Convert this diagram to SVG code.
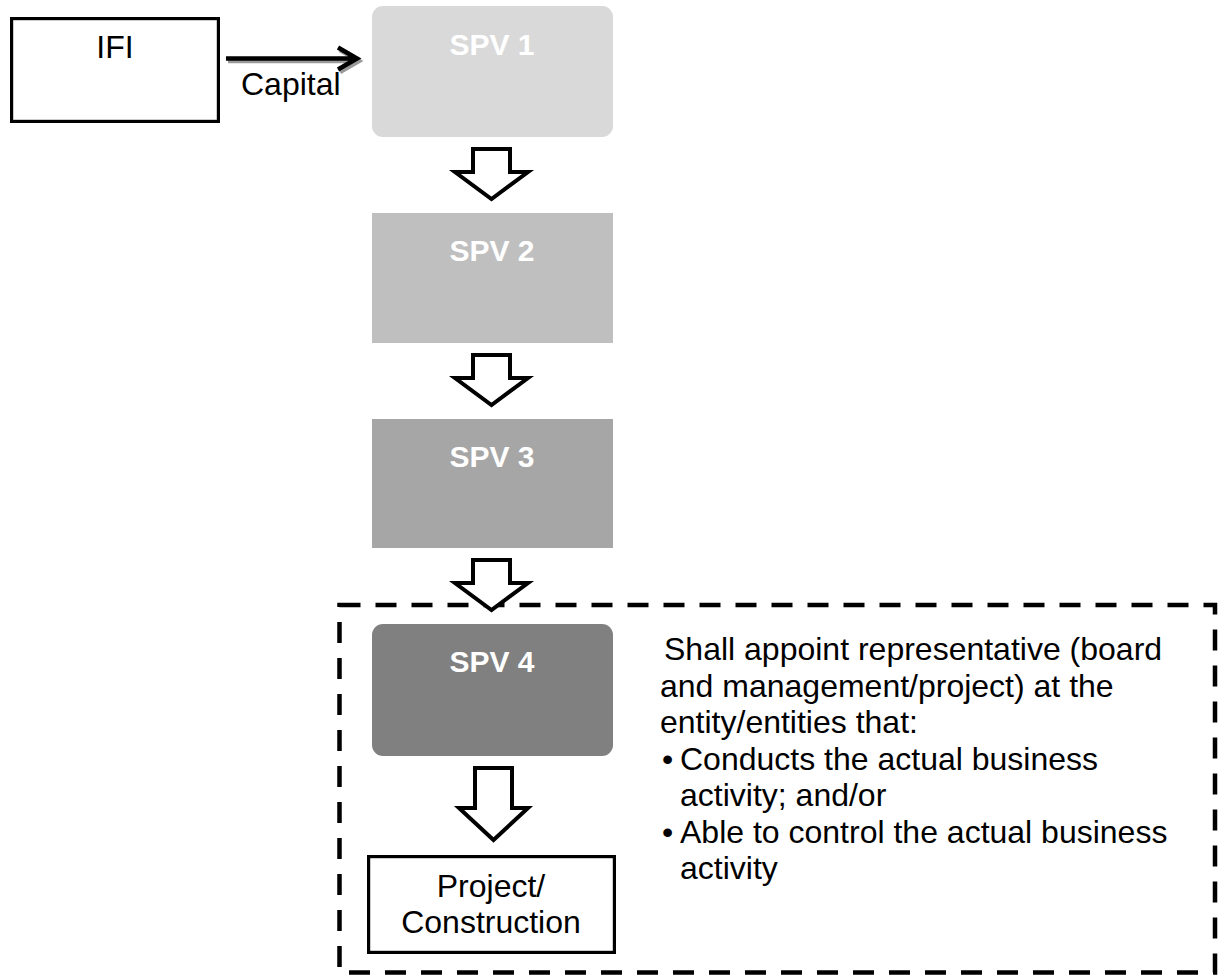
<svg xmlns="http://www.w3.org/2000/svg" width="1226" height="978" viewBox="0 0 1226 978">
  <style>
    text { font-family: "Liberation Sans", Arial, sans-serif; font-size: 32px; fill: #000; }
    .spv { font-weight: bold; font-size: 30px; fill: #fff; text-anchor: middle; }
    .mid { text-anchor: middle; }
    .box { fill: #fff; stroke: #000; stroke-width: 3.2; }
    .flow { fill: #fff; stroke: #000; stroke-width: 4; stroke-linejoin: miter; stroke-miterlimit: 10; }
    .dash { fill: none; stroke: #000; stroke-width: 4.5; stroke-dasharray: 21 15; }
  </style>

  <!-- dashed scope frame around SPV 4, the project and the note -->
  <g id="scope">
    <rect class="dash" x="339.5" y="605" width="875.5" height="367.5"/>
  </g>

  <g id="ifi">
    <rect class="box" x="11.6" y="18.6" width="206.8" height="102.8"/>
    <text class="mid" x="115" y="58">IFI</text>
  </g>

  <g id="spv1">
    <rect x="372" y="6" width="241" height="131" rx="11" fill="#d9d9d9"/>
    <text class="spv" x="492" y="55">SPV 1</text>
  </g>

  <g id="spv2">
    <rect x="372" y="213" width="241" height="130" fill="#bfbfbf"/>
    <text class="spv" x="492" y="261">SPV 2</text>
  </g>

  <g id="spv3">
    <rect x="372" y="419" width="241" height="129" fill="#a6a6a6"/>
    <text class="spv" x="492" y="467">SPV 3</text>
  </g>

  <g id="spv4">
    <rect x="372" y="624" width="241" height="132" rx="11" fill="#808080"/>
    <text class="spv" x="492" y="672">SPV 4</text>
  </g>

  <g id="project">
    <rect class="box" x="368.6" y="856.6" width="245.8" height="95.8"/>
    <text class="mid" x="491" y="897">Project/</text>
    <text class="mid" x="491" y="933">Construction</text>
  </g>

  <g id="note">
    <text x="664" y="660">Shall appoint representative (board</text>
    <text x="660" y="696.5">and management/project) at the</text>
    <text x="660" y="733">entity/entities that:</text>
    <text x="662" y="769.5">•</text>
    <text x="680" y="769.5">Conducts the actual business</text>
    <text x="680" y="806">activity; and/or</text>
    <text x="662" y="842.5">•</text>
    <text x="680" y="842.5">Able to control the actual business</text>
    <text x="680" y="879">activity</text>
  </g>

  <g id="connectors">
    <!-- capital flow: line with open head and a soft grey shadow -->
    <g fill="none" stroke-width="4.5" stroke-linejoin="miter">
      <path d="M228,61 H358 M340,50 L359,61 L340,72" stroke="#9a9a9a"/>
      <path d="M226,58.5 H356 M338,47.5 L357,58.5 L338,69.5" stroke="#000"/>
    </g>
    <text x="241" y="95">Capital</text>

    <!-- block arrows between the SPV tiers -->
    <path class="flow" d="M473,149 H510 V172 H528 L491.5,199 L455,172 H473 Z"/>
    <path class="flow" d="M473,355 H510 V378 H528 L491.5,405 L455,378 H473 Z"/>
    <path class="flow" d="M473,560 H510 V583 H528 L491.5,610 L455,583 H473 Z"/>
    <path class="flow" d="M475,768 H512 V808 H528 L493.5,840 L459,808 H475 Z"/>
  </g>
</svg>
